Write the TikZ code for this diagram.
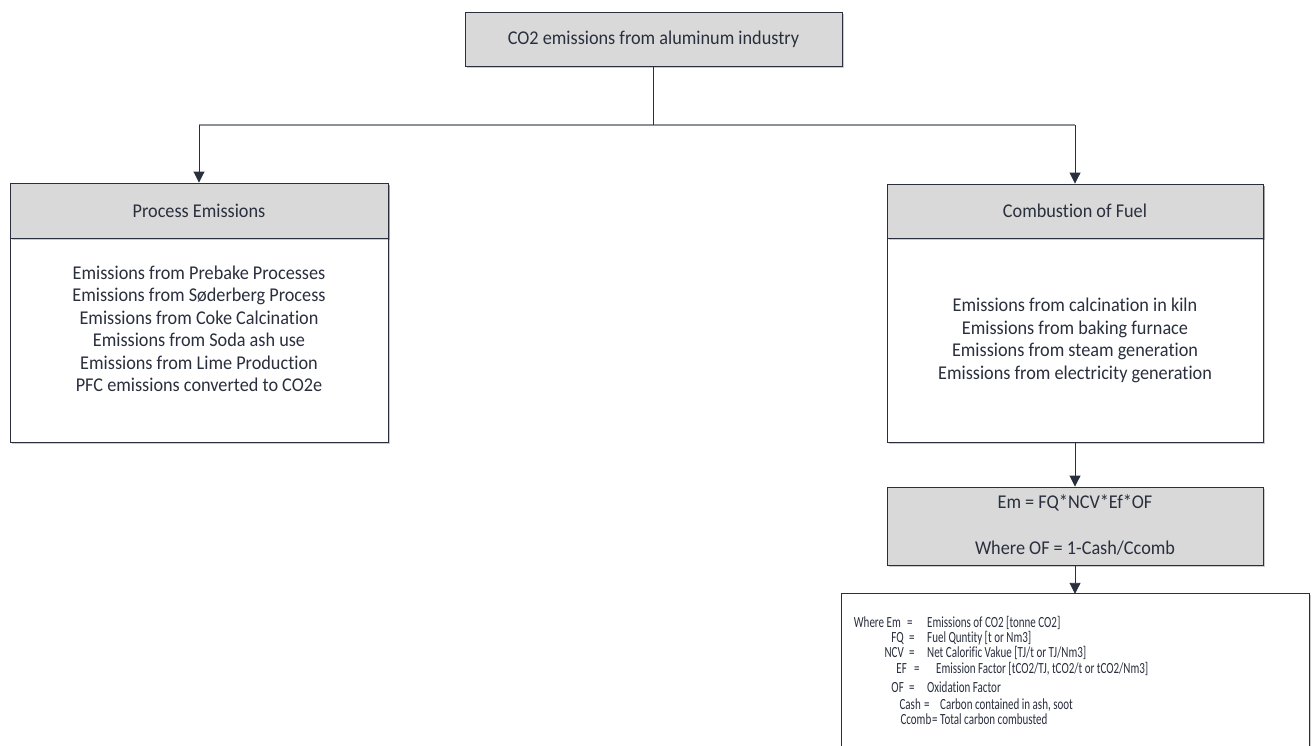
\documentclass[tikz,border=0pt]{standalone}
\usepackage{fontspec}
\setmainfont[RawFeature={-liga}]{Carlito}
\newfontfamily\boxfont[FakeStretch=0.935, RawFeature={-liga}]{Carlito}
\newfontfamily\notefont[FakeStretch=0.71, RawFeature={-liga}]{Carlito}
\usetikzlibrary{arrows.meta,shadows}
\definecolor{ink}{HTML}{2A2F3E}
\definecolor{boxgray}{HTML}{D9D9D9}
\definecolor{linkgray}{HTML}{8C9099}
\begin{document}
\begin{tikzpicture}[x=1pt,y=-1pt,
  box/.style={draw=ink, line width=0.9pt, rectangle, inner sep=0pt, fill=white,
    drop shadow={shadow xshift=1.5pt, shadow yshift=-1.5pt, opacity=0.2, fill=black}},
  head/.style={box, fill=boxgray},
  txt/.style={text=ink, font=\boxfont\fontsize{19.5}{22.5}\selectfont, align=center, inner sep=0pt},
  small/.style={text=ink, font=\notefont\fontsize{15.5}{16}\selectfont, inner sep=0pt, anchor=base west},
  link/.style={draw=ink, line width=0.9pt},
  arrow/.style={link, -{Triangle[length=11pt,width=11pt]}}]
\useasboundingbox (0,0) rectangle (1314,745);

% root
\node[head, minimum width=377, minimum height=54] (root) at (653.5,39) {};
\node[txt] (rootlbl) at (653.5,39) {CO2 emissions from aluminum industry};

% branch: process emissions
\node[box, minimum width=378, minimum height=259] (proc) at (199,312.5) {};
\node[head, minimum width=378, minimum height=55] (prochead) at (199,210.5) {};
\node[txt] (proclbl) at (199,211) {Process Emissions};
\node[txt] (procbody) at (199,329) {Emissions from Prebake Processes\\
  Emissions from Søderberg Process\\
  Emissions from Coke Calcination\\
  Emissions from Soda ash use\\
  Emissions from Lime Production\\
  PFC emissions converted to CO2e};

% branch: combustion of fuel
\node[box, minimum width=376, minimum height=258] (comb) at (1075,313) {};
\node[head, minimum width=376, minimum height=54] (combhead) at (1075,211) {};
\node[txt] (comblbl) at (1075,211) {Combustion of Fuel};
\node[txt] (combbody) at (1075,340.5) {Emissions from calcination in kiln\\
  Emissions from baking furnace\\
  Emissions from steam generation\\
  Emissions from electricity generation};

% formula
\node[head, minimum width=376, minimum height=78] (formula) at (1075,526) {};
\node[txt] (formula1) at (1075,503) {Em = FQ*NCV*Ef*OF};
\node[txt] (formula2) at (1075,548) {Where OF = 1-Cash/Ccomb};

% definitions box, open at the page bottom
\node[minimum width=467, minimum height=170, inner sep=0pt] (defs) at (1075.5,679) {};
\fill[black, opacity=0.2] ([xshift=1.5pt,yshift=-1.5pt]defs.north east) rectangle ([xshift=0.3pt]defs.south east);
\draw[fill=white, draw=ink, line width=0.9pt] (defs.south west) |- (defs.north east) -- (defs.south east);

% symbol (right end) / equals sign / meaning, one line each
\foreach \n/\y/\lx/\lab/\ex/\dx/\desc in {
  1/627/901/{Where Em}/907/927/{Emissions of CO2 [tonne CO2]},
  2/642/904/{FQ}/909/927/{Fuel Quntity [t or Nm3]},
  3/657/904/{NCV}/909/927/{Net Calorific Vakue [TJ/t or TJ/Nm3]},
  4/673/907/{EF}/914/936/{Emission Factor [tCO2/TJ, tCO2/t or tCO2/Nm3]},
  5/692/904/{OF}/909/927/{Oxidation Factor},
  6/709/921/{Cash}/924/940/{Carbon contained in ash, soot},
  7/724/931.5/{Ccomb}/932/940/{Total carbon combusted}}{
  \node[small, anchor=base east] (lab\n) at (\lx,\y) {\lab};
  \node[small] (eq\n) at (\ex,\y) {=};
  \node[small] (desc\n) at (\dx,\y) {\desc};
}

% connectors
\coordinate (hub) at (653.5,125);
\coordinate (jl) at (199,125);
\coordinate (jr) at (1075,125);
\draw[draw=linkgray, line width=1.2pt] (jl) -- (jr);
\draw[link] (root.south) -- (hub);
\draw[arrow] (jl) -- (prochead.north);
\draw[arrow] (jr) -- (combhead.north);
\draw[arrow] (comb.south) -- (formula.north);
\draw[arrow] (formula.south) -- (formula.south |- defs.north);
\end{tikzpicture}
\end{document}
